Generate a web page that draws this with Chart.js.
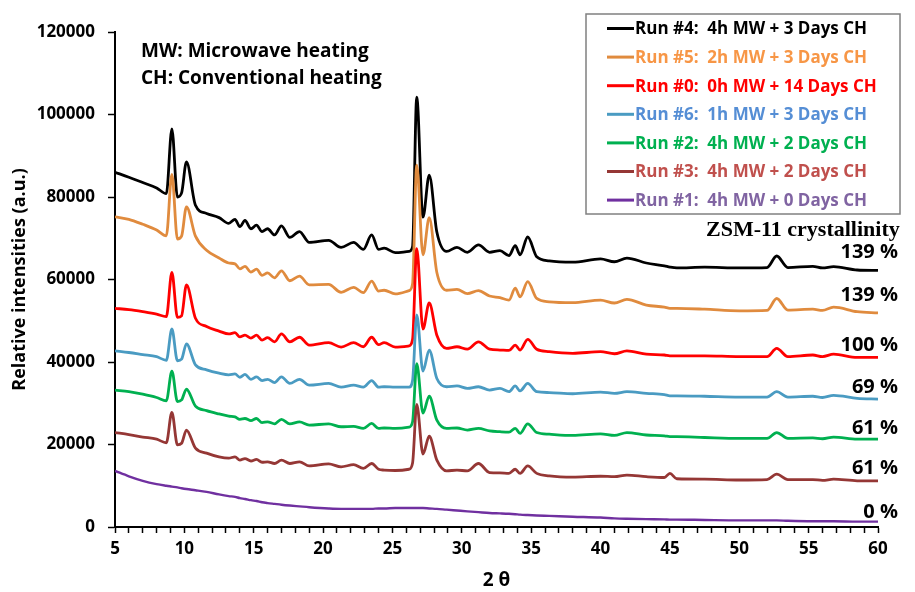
<!DOCTYPE html>
<html><head><meta charset="utf-8">
<script src="https://cdn.jsdelivr.net/npm/chart.js@4.4.1/dist/chart.umd.min.js"></script>
<style>html,body{margin:0;padding:0;background:#fff;}canvas{display:block;}</style>
</head><body>
<canvas id="c" width="915" height="592"></canvas>
<script>
// 2θ sampling positions (degrees)
const twoTheta = [5, 6, 7, 8, 8.7, 9.1, 9.5, 9.8, 10.15, 10.8, 11.6, 12.5, 13.2, 13.65, 14.0, 14.37, 14.8, 15.2, 15.6, 16.0, 16.5, 17.0, 17.6, 18.3, 19.0, 20.4, 21.3, 22.2, 22.9, 23.5, 24.0, 24.4, 25.2, 26.2, 26.45, 26.75, 27.2, 27.65, 28.2, 28.9, 29.65, 30.4, 31.2, 32.0, 32.75, 33.4, 33.85, 34.2, 34.75, 35.4, 36.3, 38.0, 40.0, 41.0, 41.9, 43.3, 44.6, 45.0, 45.5, 47.5, 50.0, 52.0, 52.7, 53.5, 55.3, 56.0, 56.8, 58.5, 60];

const run4 = [86000, 84800, 83500, 82200, 80800, 96500, 80000, 81000, 88500, 78000, 76000, 75000, 73600, 74600, 72800, 74300, 72300, 73200, 71600, 72300, 70800, 73000, 70200, 71600, 69000, 69500, 67800, 69000, 67300, 70800, 67300, 67600, 66500, 66800, 68000, 104200, 75100, 85300, 71500, 66800, 67800, 66600, 68400, 66600, 67000, 65800, 68200, 66000, 70300, 65500, 64500, 64200, 65000, 64300, 65200, 64000, 63300, 63000, 62800, 63000, 62800, 62900, 65700, 62900, 63200, 62800, 63100, 62300, 62200];
const run5 = [75200, 74600, 73400, 72000, 70600, 85500, 69800, 70500, 77600, 70500, 67100, 65200, 64000, 63800, 62600, 63200, 61800, 62500, 61000, 61600, 60400, 62100, 59700, 60800, 58700, 58800, 56900, 58100, 56800, 59600, 57200, 57400, 56500, 57300, 59000, 87700, 66000, 75000, 61700, 57400, 57600, 56600, 57300, 56000, 55600, 55000, 57900, 55800, 59500, 55400, 54600, 54400, 55000, 54300, 55200, 53800, 53300, 53000, 53000, 52800, 52400, 52500, 55400, 52600, 52800, 52500, 53300, 52200, 51900];
const run0 = [53000, 52700, 52200, 51600, 51000, 61700, 50800, 51200, 58700, 50600, 48600, 47500, 46800, 47100, 46100, 46500, 45800, 46500, 45300, 45900, 44900, 46800, 44900, 46000, 44100, 44700, 43600, 44700, 43700, 46000, 44200, 44700, 43600, 43900, 45500, 67500, 48000, 54300, 46500, 43300, 43700, 43100, 44900, 43100, 42900, 42800, 44100, 42900, 45500, 43100, 42500, 42100, 42500, 42000, 42700, 41900, 41700, 41500, 41500, 41500, 41300, 41300, 43300, 41300, 41700, 41300, 41900, 41100, 41100];
const run6 = [42700, 42300, 41800, 41300, 40400, 48000, 40300, 40700, 44400, 39300, 38100, 37300, 36900, 37100, 36300, 37000, 35800, 36400, 35500, 35800, 35000, 36400, 34800, 35800, 34400, 34800, 33900, 34400, 33900, 35500, 33900, 34000, 33900, 33900, 35500, 51400, 37800, 42900, 36000, 34000, 34200, 33600, 34000, 33200, 33600, 32800, 34200, 33000, 34800, 32800, 32600, 32300, 32700, 32400, 32800, 32400, 32100, 31800, 31800, 31700, 31500, 31500, 32800, 31500, 31700, 31400, 31900, 31200, 31000];
const run2 = [33200, 32800, 32200, 31400, 30600, 37800, 30400, 30800, 33400, 29300, 28200, 27400, 26900, 26700, 26100, 26300, 25800, 26300, 25300, 25500, 25000, 26100, 25000, 25500, 24700, 25000, 24300, 24400, 23900, 25100, 23900, 24000, 23900, 24200, 25500, 39600, 27600, 31700, 25900, 23900, 24000, 23500, 23900, 23300, 23100, 23000, 23900, 22700, 25000, 22900, 22500, 22200, 22600, 22200, 22900, 22300, 22100, 21900, 21900, 21700, 21500, 21500, 22900, 21500, 21600, 21400, 21800, 21300, 21300];
const run3 = [22900, 22400, 21800, 21300, 20400, 27800, 19900, 20300, 23500, 19100, 17900, 17000, 16700, 17000, 16200, 16600, 16000, 16400, 15700, 15800, 15400, 16200, 15400, 15800, 14800, 15300, 14600, 15100, 14200, 15400, 14000, 13800, 13700, 14000, 15500, 29700, 17700, 22000, 16200, 13600, 13800, 13600, 15400, 13200, 13100, 13000, 14000, 13000, 14800, 13000, 12400, 12100, 12300, 12200, 12600, 12200, 12000, 13000, 11700, 11600, 11400, 11500, 12800, 11500, 11500, 11300, 11600, 11200, 11200];
const run1 = [13600, 12300, 11200, 10400, 10000, 9800, 9600, 9400, 9200, 8900, 8500, 7900, 7500, 7300, 7000, 6800, 6500, 6300, 6000, 5800, 5600, 5400, 5200, 5000, 4800, 4500, 4400, 4400, 4400, 4400, 4500, 4500, 4600, 4600, 4600, 4600, 4600, 4500, 4400, 4200, 4000, 3800, 3600, 3400, 3300, 3200, 3100, 3000, 2900, 2800, 2700, 2500, 2300, 2100, 2000, 1900, 1850, 1800, 1800, 1700, 1600, 1600, 1600, 1500, 1400, 1400, 1400, 1300, 1300];

const seriesNames = ['Run #4:  4h MW + 3 Days CH', 'Run #5:  2h MW + 3 Days CH', 'Run #0:  0h MW + 14 Days CH', 'Run #6:  1h MW + 3 Days CH', 'Run #2:  4h MW + 2 Days CH', 'Run #3:  4h MW + 2 Days CH', 'Run #1:  4h MW + 0 Days CH'];
const seriesValues = [run4, run5, run0, run6, run2, run3, run1];
const crystallinity = ['139 %', '139 %', '100 %', '69 %', '61 %', '61 %', '0 %'];
const crystTitle = 'ZSM-11 crystallinity';
const notes = ['MW: Microwave heating', 'CH: Conventional heating'];
const xTitle = '2 θ';
const yTitle = 'Relative intensities (a.u.)';

const lineColors = ['#000000', '#E08B3E', '#FF0000', '#4A9BC2', '#00B050', '#953735', '#7030A0'];
const textColors = ['#000000', '#F79646', '#FF0000', '#558ED5', '#00B050', '#C0504D', '#8064A2'];
const pctY = [252, 295, 345, 387, 428, 468, 512];

const FONT = '"Open Sans", "Liberation Sans", sans-serif';

const datasets = seriesValues.map((arr, i) => ({
  label: seriesNames[i],
  data: twoTheta.map((x, j) => ({ x: x, y: arr[j] })),
  borderColor: lineColors[i],
  backgroundColor: lineColors[i],
  borderWidth: i === 6 ? 2.4 : 2.8,
  pointRadius: 0,
  fill: false,
  cubicInterpolationMode: 'monotone',
  order: 7 - i
}));

const overlay = {
  id: 'overlay',
  afterDraw(chart) {
    const ctx = chart.ctx;
    ctx.save();
    ctx.fillStyle = '#000';
    ctx.textAlign = 'left';
    ctx.textBaseline = 'alphabetic';
    ctx.font = 'bold 19px ' + FONT;
    notes.forEach((t, i) => ctx.fillText(t, 141, 57 + i * 26.7));
    ctx.font = 'bold 22px "Liberation Serif", serif';
    ctx.fillText(crystTitle, 706, 236);
    ctx.font = 'bold 20px ' + FONT;
    ctx.textAlign = 'right';
    ctx.textBaseline = 'middle';
    crystallinity.forEach((t, i) => ctx.fillText(t, 898, pctY[i]));
    // legend box
    const L = 586, T = 14, R = 900, B = 214;
    ctx.fillStyle = '#fff';
    ctx.fillRect(L, T, R - L, B - T);
    ctx.strokeStyle = '#808080';
    ctx.lineWidth = 1.5;
    ctx.strokeRect(L, T, R - L, B - T);
    ctx.textAlign = 'left';
    ctx.font = 'bold 17px ' + FONT;
    seriesNames.forEach((name, i) => {
      const y = 28.5 + i * 28.6;
      ctx.strokeStyle = lineColors[i];
      ctx.lineWidth = 3;
      ctx.beginPath(); ctx.moveTo(607, y); ctx.lineTo(634, y); ctx.stroke();
      ctx.fillStyle = textColors[i];
      ctx.fillText(name, 635, y + 1);
    });
    ctx.restore();
  }
};

new Chart(document.getElementById('c'), {
  type: 'line',
  data: { datasets: datasets },
  plugins: [overlay],
  options: {
    responsive: false,
    animation: false,
    devicePixelRatio: 1,
    layout: { padding: { top: 32, right: 37, left: 0, bottom: 0 } },
    plugins: { legend: { display: false }, tooltip: { enabled: false } },
    scales: {
      x: {
        type: 'linear', min: 5, max: 60,
        afterFit: s => { s.height = 65; },
        ticks: {
          stepSize: 1, autoSkip: false, maxRotation: 0, maxTicksLimit: 100, padding: 6,
          color: '#000', font: { family: FONT, size: 17, weight: 'bold' },
          callback: v => (v % 5 === 0 ? String(v) : '')
        },
        grid: { drawOnChartArea: false, drawTicks: true, tickLength: 6, tickColor: '#000', tickWidth: 1.5 },
        border: { display: true, color: '#000', width: 2 },
        title: { display: true, text: xTitle, color: '#000', font: { family: FONT, size: 19, weight: 'bold' }, padding: { top: 0, bottom: 0 } }
      },
      y: {
        min: 0, max: 120000,
        afterFit: s => { s.width = 115; },
        ticks: {
          stepSize: 20000, padding: 13, color: '#000',
          font: { family: FONT, size: 17, weight: 'bold' },
          callback: v => String(v)
        },
        grid: { drawOnChartArea: false, drawTicks: true, tickLength: 7, tickColor: '#000', tickWidth: 1.5 },
        border: { display: true, color: '#000', width: 2 },
        title: { display: true, text: yTitle, color: '#000', font: { family: FONT, size: 18, weight: 'bold' }, padding: { top: 9, bottom: 0 } }
      }
    }
  }
});
</script>
</body></html>
